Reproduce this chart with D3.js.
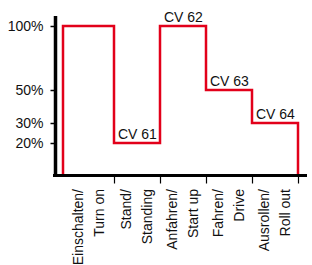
<!DOCTYPE html>
<html>
<head>
<meta charset="utf-8">
<script src="https://cdn.jsdelivr.net/npm/d3@7"></script>
<style>
  body { margin: 0; background: #fff; }
  text { font-family: "Liberation Sans", Arial, sans-serif; fill: #111; }
</style>
</head>
<body>
<div class="chart"></div>
<script>
// phases along the x axis, two lines per label
var labelsDe = ["Einschalten/", "Stand/", "Anfahren/", "Fahren/", "Ausrollen/"];
var labelsEn = ["Turn on", "Standing", "Start up", "Drive", "Roll out"];
// level of each phase in %
var levels = [100, 20, 100, 50, 30];
var cvLabels = ["", "CV 61", "CV 62", "CV 63", "CV 64"];
var yTicks = [20, 30, 50, 100];

var svgWidth = 312;
var svgHeight = 265;

var svg = d3.select(".chart")
  .append("svg")
  .attr("width", svgWidth)
  .attr("height", svgHeight);

// the original axis is not linear, so piecewise scales
var x = d3.scaleLinear()
  .domain([0, 1, 5])
  .range([63, 114, 298]);

var y = d3.scaleLinear()
  .domain([0, 20, 30, 50, 100])
  .range([174, 143, 123, 90, 26]);

// step line
var pts = [[0, 0]];
levels.forEach(function(v, i) {
  pts.push([i, v]);
  pts.push([i + 1, v]);
});
pts.push([levels.length, 0]);

var line = d3.line()
  .x(d => x(d[0]))
  .y(d => y(d[1]));

svg.append("path")
  .datum(pts)
  .attr("d", line)
  .attr("fill", "none")
  .attr("stroke", "#e2001a")
  .attr("stroke-width", 2.5);

// CV labels above each segment
svg.selectAll(".cv")
  .data(levels)
  .enter()
  .append("text")
  .attr("class", "cv")
  .attr("x", (d, i) => x(i) + 4)
  .attr("y", d => y(d) - 4)
  .attr("font-size", "14px")
  .text((d, i) => cvLabels[i]);

// y axis
var yAxis = svg.append("g")
  .attr("transform", "translate(55.5,0)")
  .call(d3.axisLeft(y).tickValues(yTicks).tickSize(5).tickFormat(d => d + "%"));
yAxis.select(".domain").remove();
yAxis.selectAll(".tick line").attr("stroke", "#000").attr("stroke-width", 1.5);
yAxis.selectAll(".tick text")
  .attr("font-size", "14px")
  .attr("x", -12)
  .attr("font-family", null);

svg.append("line")
  .attr("x1", 55.5).attr("x2", 55.5)
  .attr("y1", 16).attr("y2", 177)
  .attr("stroke", "#000")
  .attr("stroke-width", 3.5);

// x axis
var xAxis = svg.append("g")
  .attr("transform", "translate(0,175.5)")
  .call(d3.axisBottom(x).tickValues([1, 2, 3, 4, 5]).tickSize(8).tickFormat(""));
xAxis.select(".domain").remove();
xAxis.selectAll(".tick line").attr("stroke", "#000").attr("stroke-width", 1.2);

svg.append("line")
  .attr("x1", 53).attr("x2", 307)
  .attr("y1", 175.5).attr("y2", 175.5)
  .attr("stroke", "#000")
  .attr("stroke-width", 3);

// rotated phase labels
var lab = svg.selectAll(".phase")
  .data(labelsDe)
  .enter()
  .append("g")
  .attr("class", "phase")
  .attr("transform", (d, i) => `translate(${x(i + 0.5)},189) rotate(-90)`);

lab.append("text")
  .attr("text-anchor", "end")
  .attr("y", -6)
  .attr("font-size", "14px")
  .text(d => d);

lab.append("text")
  .attr("text-anchor", "end")
  .attr("y", 15)
  .attr("font-size", "14px")
  .text((d, i) => labelsEn[i]);
</script>
</body>
</html>
